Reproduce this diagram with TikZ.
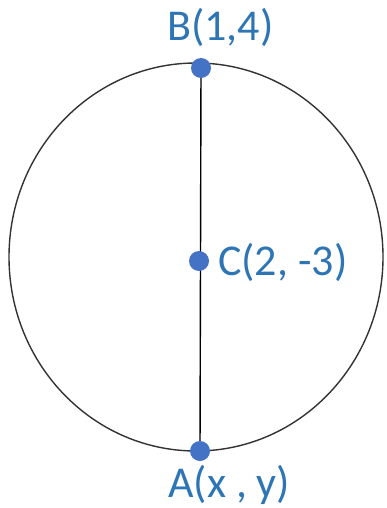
\documentclass[tikz,border=0pt]{standalone}
\usepackage{fontspec}
\setmainfont{Carlito}
\definecolor{dotblue}{HTML}{4472C4}
\definecolor{txtblue}{HTML}{2E75B6}
\definecolor{ring}{HTML}{333333}
\begin{document}
\begin{tikzpicture}[x=1pt,y=-1pt,
  dot/.style={circle,fill=dotblue,inner sep=0pt,minimum size=20pt},
  lbl/.style={text=txtblue,font=\fontsize{44}{44}\selectfont,inner sep=0pt,anchor=base west}]
\useasboundingbox[fill=white] (0,0) rectangle (386,508);
\draw[ring,line width=1.4pt] (196,257) ellipse [x radius=187,y radius=194];
\coordinate (b) at (201,68);
\coordinate (c) at (199,261);
\coordinate (a) at (200,451);
\draw[black,line width=1.4pt] (b) -- (a);
\node[dot] (B) at (b) {};
\node[dot] (C) at (c) {};
\node[dot] (A) at (a) {};
\node[lbl] (Bl) at (167,41) {B(1,4)};
\node[lbl] (Cl) at (218,275) {C(2, -3)};
\node[lbl] (Al) at (168,497) {A(x , y)};
\end{tikzpicture}
\end{document}
